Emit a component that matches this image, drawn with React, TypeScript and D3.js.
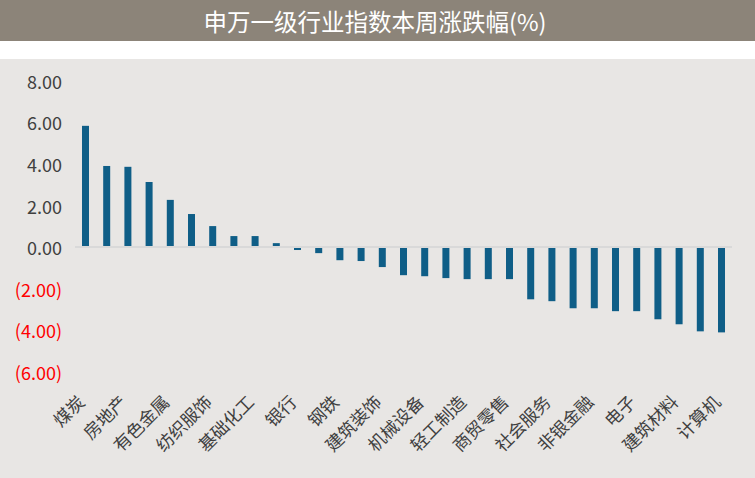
import * as d3 from "d3";

const industries = [
  "煤炭", "石油石化", "房地产", "公用事业", "有色金属", "交通运输", "纺织服饰", "环保",
  "基础化工", "农林牧渔", "银行", "家用电器", "钢铁", "食品饮料", "建筑装饰", "综合",
  "机械设备", "汽车", "轻工制造", "医药生物", "商贸零售", "美容护理", "社会服务", "电力设备",
  "非银金融", "通信", "电子", "国防军工", "建筑材料", "传媒", "计算机",
];

const weeklyChange = [
  5.83, 3.9, 3.86, 3.13, 2.27, 1.59, 1.01, 0.53,
  0.53, 0.19, -0.14, -0.29, -0.63, -0.67, -0.96, -1.35,
  -1.4, -1.49, -1.54, -1.54, -1.54, -2.51, -2.6, -2.94,
  -2.94, -3.08, -3.08, -3.47, -3.71, -4.05, -4.1,
];

const yTicks = [8, 6, 4, 2, 0, -2, -4, -6];

const title = "申万一级行业指数本周涨跌幅(%)";

const W = 755;
const H = 478;
const FONT = "'Noto Sans CJK SC', 'Noto Sans', sans-serif";

const fmt = (v: number) => (v < 0 ? `(${Math.abs(v).toFixed(2)})` : v.toFixed(2));

export default function App() {
  const x = d3
    .scaleBand<string>()
    .domain(industries)
    .range([75, 732])
    .paddingInner(0.67)
    .paddingOuter(0.33);

  const y = d3.scaleLinear().domain([-6, 8]).range([371.9, 80.7]);

  return (
    <svg
      width={W}
      height={H}
      style={{ position: "absolute", left: 0, top: 0, fontFamily: FONT }}
    >
      <rect x={0} y={0} width={W} height={41} fill="#8c8479" />
      <text
        x={375}
        y={20.5}
        textAnchor="middle"
        dominantBaseline="central"
        fill="#ffffff"
        fontSize={23.5}
      >
        {title}
      </text>
      <rect x={0} y={59} width={W} height={H - 59} fill="#e8e6e4" />

      {yTicks.map((t) => (
        <text
          key={t}
          x={62}
          y={y(t)}
          textAnchor="end"
          dominantBaseline="central"
          fontSize={18}
          fill={t < 0 ? "#ff0000" : "#404040"}
        >
          {fmt(t)}
        </text>
      ))}

      {industries.map((name, i) => {
        const v = weeklyChange[i];
        return (
          <rect
            key={name}
            x={x(name)}
            y={y(Math.max(0, v))}
            width={x.bandwidth()}
            height={Math.abs(y(v) - y(0))}
            fill="#0f5e87"
          />
        );
      })}

      <line x1={75} x2={732} y1={y(0)} y2={y(0)} stroke="#d9d9d9" strokeWidth={2} />

      {industries.map((name, i) => {
        if (i % 2 !== 0) return null;
        const cx = (x(name) || 0) + x.bandwidth() / 2 - 5;
        return (
          <text
            key={name}
            transform={`translate(${cx},398) rotate(-45)`}
            textAnchor="end"
            dominantBaseline="central"
            fontSize={17.5}
            fill="#404040"
          >
            {name}
          </text>
        );
      })}
    </svg>
  );
}
